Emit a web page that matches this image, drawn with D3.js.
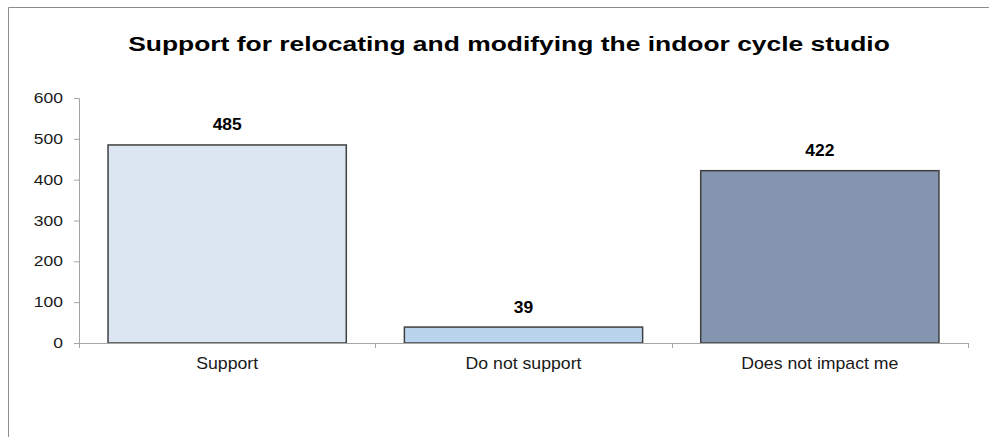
<!DOCTYPE html>
<html>
<head>
<meta charset="utf-8">
<script src="https://cdn.jsdelivr.net/npm/d3@7"></script>
<style>
  html, body { margin: 0; padding: 0; background: #ffffff; }
  svg { display: block; font-family: "Liberation Sans", Arial, sans-serif; }
</style>
</head>
<body>
<svg id="chart" width="989" height="437"></svg>
<script>
// Survey responses
const title = "Support for relocating and modifying the indoor cycle studio";
const categories = ["Support", "Do not support", "Does not impact me"];
const values = [485, 39, 422];
const barColors = ["#dce6f2", "#b9d4ec", "#8495af"];
const yTicks = [0, 100, 200, 300, 400, 500, 600];

const svg = d3.select("#chart");

// Place text at (x, y) with a horizontal stretch factor
function placeStretched(sel, xFn, yFn, sx) {
  sel.each(function (d, i) {
    const t = d3.select(this);
    const px = typeof xFn === "function" ? xFn(d, i) : xFn;
    const py = typeof yFn === "function" ? yFn(d, i) : yFn;
    t.attr("x", 0).attr("y", 0)
      .attr("transform", `translate(${px},${py}) scale(${sx},1)`);
  });
}

// Outer frame (left and top edges visible)
svg.append("path")
  .attr("d", "M8.5,437 L8.5,7.5 L989,7.5")
  .attr("fill", "none")
  .attr("stroke", "#8c8c8c")
  .attr("stroke-width", 1);

const plot = { left: 79, right: 968, top: 98, bottom: 343 };

const x = d3.scaleBand()
  .domain(categories)
  .range([plot.left, plot.right])
  .paddingInner(0.196)
  .paddingOuter(0.098);

const y = d3.scaleLinear()
  .domain([0, 600])
  .range([plot.bottom, plot.top]);

// Title
svg.append("text")
  .attr("text-anchor", "middle")
  .attr("font-size", "21px")
  .attr("font-weight", "bold")
  .attr("fill", "#000")
  .text(title)
  .call(placeStretched, 509, 50.5, 1.258);

// Y axis
const yAxis = svg.append("g")
  .attr("transform", `translate(${plot.left},0)`)
  .call(d3.axisLeft(y).tickValues(yTicks).tickSize(5).tickPadding(11));
yAxis.select(".domain").attr("stroke", "#a6a6a6");
yAxis.selectAll(".tick line").attr("stroke", "#a6a6a6");
yAxis.selectAll(".tick text")
  .attr("font-size", "14px")
  .attr("fill", "#1a1a1a")
  .attr("font-family", "Liberation Sans, Arial, sans-serif")
  .attr("dy", null)
  .call(placeStretched, -16, 4.5, 1.25);

// Bars
svg.append("g").selectAll("rect")
  .data(values)
  .join("rect")
  .attr("x", (d, i) => x(categories[i]))
  .attr("y", d => y(d))
  .attr("width", x.bandwidth())
  .attr("height", d => y(0) - y(d))
  .attr("fill", (d, i) => barColors[i])
  .attr("stroke", "#404040")
  .attr("stroke-width", 1.5);

// X axis with ticks between categories
const xg = svg.append("g");
xg.append("line")
  .attr("x1", plot.left).attr("x2", plot.right)
  .attr("y1", plot.bottom + 0.5).attr("y2", plot.bottom + 0.5)
  .attr("stroke", "#a6a6a6");
const bounds = d3.range(categories.length + 1)
  .map(i => plot.left + i * (plot.right - plot.left) / categories.length);
xg.selectAll("line.tick")
  .data(bounds)
  .join("line")
  .attr("class", "tick")
  .attr("x1", d => Math.round(d) + 0.5).attr("x2", d => Math.round(d) + 0.5)
  .attr("y1", plot.bottom).attr("y2", plot.bottom + 5)
  .attr("stroke", "#a6a6a6");

// Category labels
svg.append("g").selectAll("text")
  .data(categories)
  .join("text")
  .attr("text-anchor", "middle")
  .attr("font-size", "17px")
  .attr("fill", "#1a1a1a")
  .text(d => d)
  .call(placeStretched, d => x(d) + x.bandwidth() / 2, 369, 1.04);

// Value labels
svg.append("g").selectAll("text")
  .data(values)
  .join("text")
  .attr("text-anchor", "middle")
  .attr("font-size", "16px")
  .attr("font-weight", "bold")
  .attr("fill", "#000")
  .text(d => d)
  .call(placeStretched, (d, i) => x(categories[i]) + x.bandwidth() / 2, d => y(d) - 14.5, 1.09);
</script>
</body>
</html>
